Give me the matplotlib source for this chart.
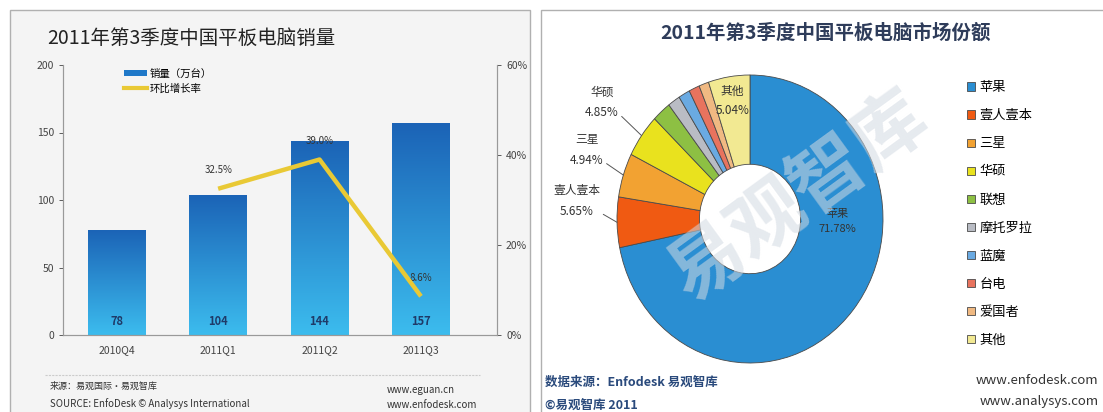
import numpy as np
import matplotlib
matplotlib.use('Agg')
import matplotlib.pyplot as plt
from matplotlib.patches import Rectangle, Patch
from matplotlib.lines import Line2D

plt.rcParams['font.family'] = ['Noto Sans CJK SC', 'DejaVu Sans']

# left chart data
quarters = ['2010Q4', '2011Q1', '2011Q2', '2011Q3']
sales = [78, 104, 144, 157]
growth_q = ['2011Q1', '2011Q2', '2011Q3']
growth = [32.5, 39.0, 8.6]

# right chart data
brands = ['苹果', '壹人壹本', '三星', '华硕', '联想', '摩托罗拉', '蓝魔', '台电', '爱国者', '其他']
shares = [71.78, 5.65, 4.94, 4.85, 2.3, 1.5, 1.4, 1.3, 1.2, 5.04]
brand_colors = ['#2a8ed2', '#f05a12', '#f2a232', '#e9e21e', '#8dc043',
                '#b9bcc4', '#6aaae2', '#e8735e', '#f0b982', '#f2e992']

W, H = 1103, 412


def px(x, y):
    """image pixel (top-left origin) -> figure fraction"""
    return x / W, 1 - y / H


fig = plt.figure(figsize=(W / 100, H / 100), dpi=100)
fig.patch.set_facecolor('white')

# panel frames
fig.add_artist(Rectangle(px(10, 420), 520 / W, 410 / H, transform=fig.transFigure,
                         facecolor='#f4f4f4', edgecolor='#b0b0b0', lw=1, zorder=0))
fig.add_artist(Rectangle(px(541, 420), 600 / W, 410 / H, transform=fig.transFigure,
                         facecolor='white', edgecolor='#b0b0b0', lw=1, zorder=0))

# ---------------- left: bars + growth line ----------------
x0, y0 = px(63, 335)
x1, y1 = px(497, 65)
ax = fig.add_axes([x0, y0, x1 - x0, y1 - y0])
ax.set_facecolor('none')
xs = np.arange(len(quarters))
bars = ax.bar(xs, sales, width=0.57, color='none', edgecolor='none')
grad = np.linspace(0, 1, 256).reshape(-1, 1)
cmap = matplotlib.colors.LinearSegmentedColormap.from_list('bl', ['#3cbcee', '#1b63b6'])
for b in bars:
    im = ax.imshow(grad, cmap=cmap, origin='lower', aspect='auto',
                   extent=[b.get_x(), b.get_x() + b.get_width(), 0, b.get_height()], zorder=2)
    im.set_clip_path(b)
for x, v in zip(xs, sales):
    ax.text(x, 5, str(v), ha='center', va='bottom', fontsize=8, fontweight='bold',
            color='#1f3a68', zorder=4)
ax.set_xlim(-0.53, 3.75)
ax.set_ylim(0, 200)
ax.set_yticks([0, 50, 100, 150, 200])
ax.set_xticks(xs)
ax.set_xticklabels(quarters)
ax.tick_params(labelsize=7.5, colors='#444444', length=3, width=0.6)
ax.tick_params(axis='x', length=0, pad=7)
ax.spines['top'].set_visible(False)
for s in ['left', 'bottom', 'right']:
    ax.spines[s].set_color('#999999')
    ax.spines[s].set_linewidth(0.8)

ax2 = ax.twinx()
gx = [quarters.index(q) for q in growth_q]
ax2.plot(gx, growth, color='#e9c935', lw=3.2, solid_capstyle='butt', zorder=5)
for x, v in zip(gx, growth):
    ax2.text(x, v + 3, f'{v:.1f}%', ha='center', va='bottom', fontsize=7, color='#333333')
ax2.set_ylim(0, 60)
ax2.set_yticks([0, 20, 40, 60])
ax2.set_yticklabels(['0%', '20%', '40%', '60%'])
ax2.tick_params(labelsize=7.5, colors='#444444', length=3, width=0.6)
ax2.spines['top'].set_visible(False)
for s in ['left', 'bottom', 'right']:
    ax2.spines[s].set_color('#999999')
    ax2.spines[s].set_linewidth(0.8)

handles = [Patch(facecolor='#1f78c8', edgecolor='none'),
           Line2D([0], [0], color='#e9c935', lw=3)]
fig.legend(handles, ['销量（万台）', '环比增长率'], loc='upper left',
           bbox_to_anchor=px(115, 59), frameon=False, fontsize=7.5,
           handlelength=2.2, handleheight=0.5, handletextpad=0.2, labelspacing=0.45)

fig.text(*px(47, 38), '2011年第3季度中国平板电脑销量', fontsize=14, color='#222222',
         va='center', ha='left')
fig.add_artist(Line2D([45 / W, 480 / W], [1 - 375 / H] * 2, transform=fig.transFigure,
                      color='#cccccc', lw=0.8, ls=(0, (2, 1))))
fig.text(*px(50, 386), '来源：易观国际·易观智库', fontsize=6.5, color='#333333', va='center')
fig.text(*px(50, 404), 'SOURCE: EnfoDesk © Analysys International', fontsize=7, color='#333333', va='center')
fig.text(*px(387, 390), 'www.eguan.cn', fontsize=7, color='#333333', va='center')
fig.text(*px(387, 405), 'www.enfodesk.com', fontsize=7, color='#333333', va='center')

# ---------------- right: donut ----------------
fig.text(*px(826, 33), '2011年第3季度中国平板电脑市场份额', fontsize=14, fontweight='bold',
         color='#2e3c5a', ha='center', va='center')

p0 = px(617, 363)
p1 = px(883, 75)
pax = fig.add_axes([p0[0], p0[1], p1[0] - p0[0], p1[1] - p0[1]])
wedges, _ = pax.pie(shares, colors=brand_colors, startangle=90, counterclock=False,
                    radius=1, wedgeprops=dict(width=0.62, edgecolor='#4a4a4a', linewidth=0.6))
pax.set_aspect('auto')
pax.set_xlim(-1, 1)
pax.set_ylim(-1, 1)

# outer labels with leader lines
outer = {'壹人壹本': (577, 201), '三星': (587, 150), '华硕': (602, 102)}
for name, (tx, ty) in outer.items():
    w = wedges[brands.index(name)]
    ang = np.deg2rad((w.theta1 + w.theta2) / 2)
    pct = shares[brands.index(name)]
    pax.annotate(f'{name}\n{pct:.2f}%', xy=(np.cos(ang), np.sin(ang)), xycoords='data',
                 xytext=px(tx, ty), textcoords='figure fraction', ha='center', va='center',
                 fontsize=8.5, color='#333333', linespacing=1.75, annotation_clip=False,
                 arrowprops=dict(arrowstyle='-', color='#555555', lw=0.7,
                                 relpos=(1.0, 0.15), shrinkA=0, shrinkB=0))

w = wedges[brands.index('其他')]
ang = np.deg2rad((w.theta1 + w.theta2) / 2)
pax.text(0.83 * np.cos(ang), 0.83 * np.sin(ang), f'其他\n{shares[-1]:.2f}%', ha='center',
         va='center', fontsize=8.5, color='#333333', linespacing=1.6)
pax.text(0.66, -0.02, f'苹果\n{shares[0]:.2f}%', ha='center', va='center', fontsize=8,
         color='#333333', linespacing=1.6)

# watermark
fig.text(*px(798, 197), '易观智库', fontsize=54, fontweight='bold', color='#d2dae2',
         alpha=0.55, rotation=36, ha='center', va='center', zorder=10)

fig.legend(wedges, brands, loc='upper left', bbox_to_anchor=px(962, 76), frameon=False,
           fontsize=9.5, handlelength=0.6, handleheight=0.6, handletextpad=0.3,
           labelspacing=1.14, borderaxespad=0)

fig.text(*px(545, 382), '数据来源：Enfodesk 易观智库', fontsize=9, fontweight='bold',
         color='#2a4a7c', va='center')
fig.text(*px(545, 405), '©易观智库 2011', fontsize=9, fontweight='bold', color='#2a4a7c', va='center')
fig.text(*px(976, 381), 'www.enfodesk.com', fontsize=9.5, color='#333333', va='center')
fig.text(*px(980, 402), 'www.analysys.com', fontsize=9.5, color='#333333', va='center')

fig.savefig('out.png', dpi=100)
